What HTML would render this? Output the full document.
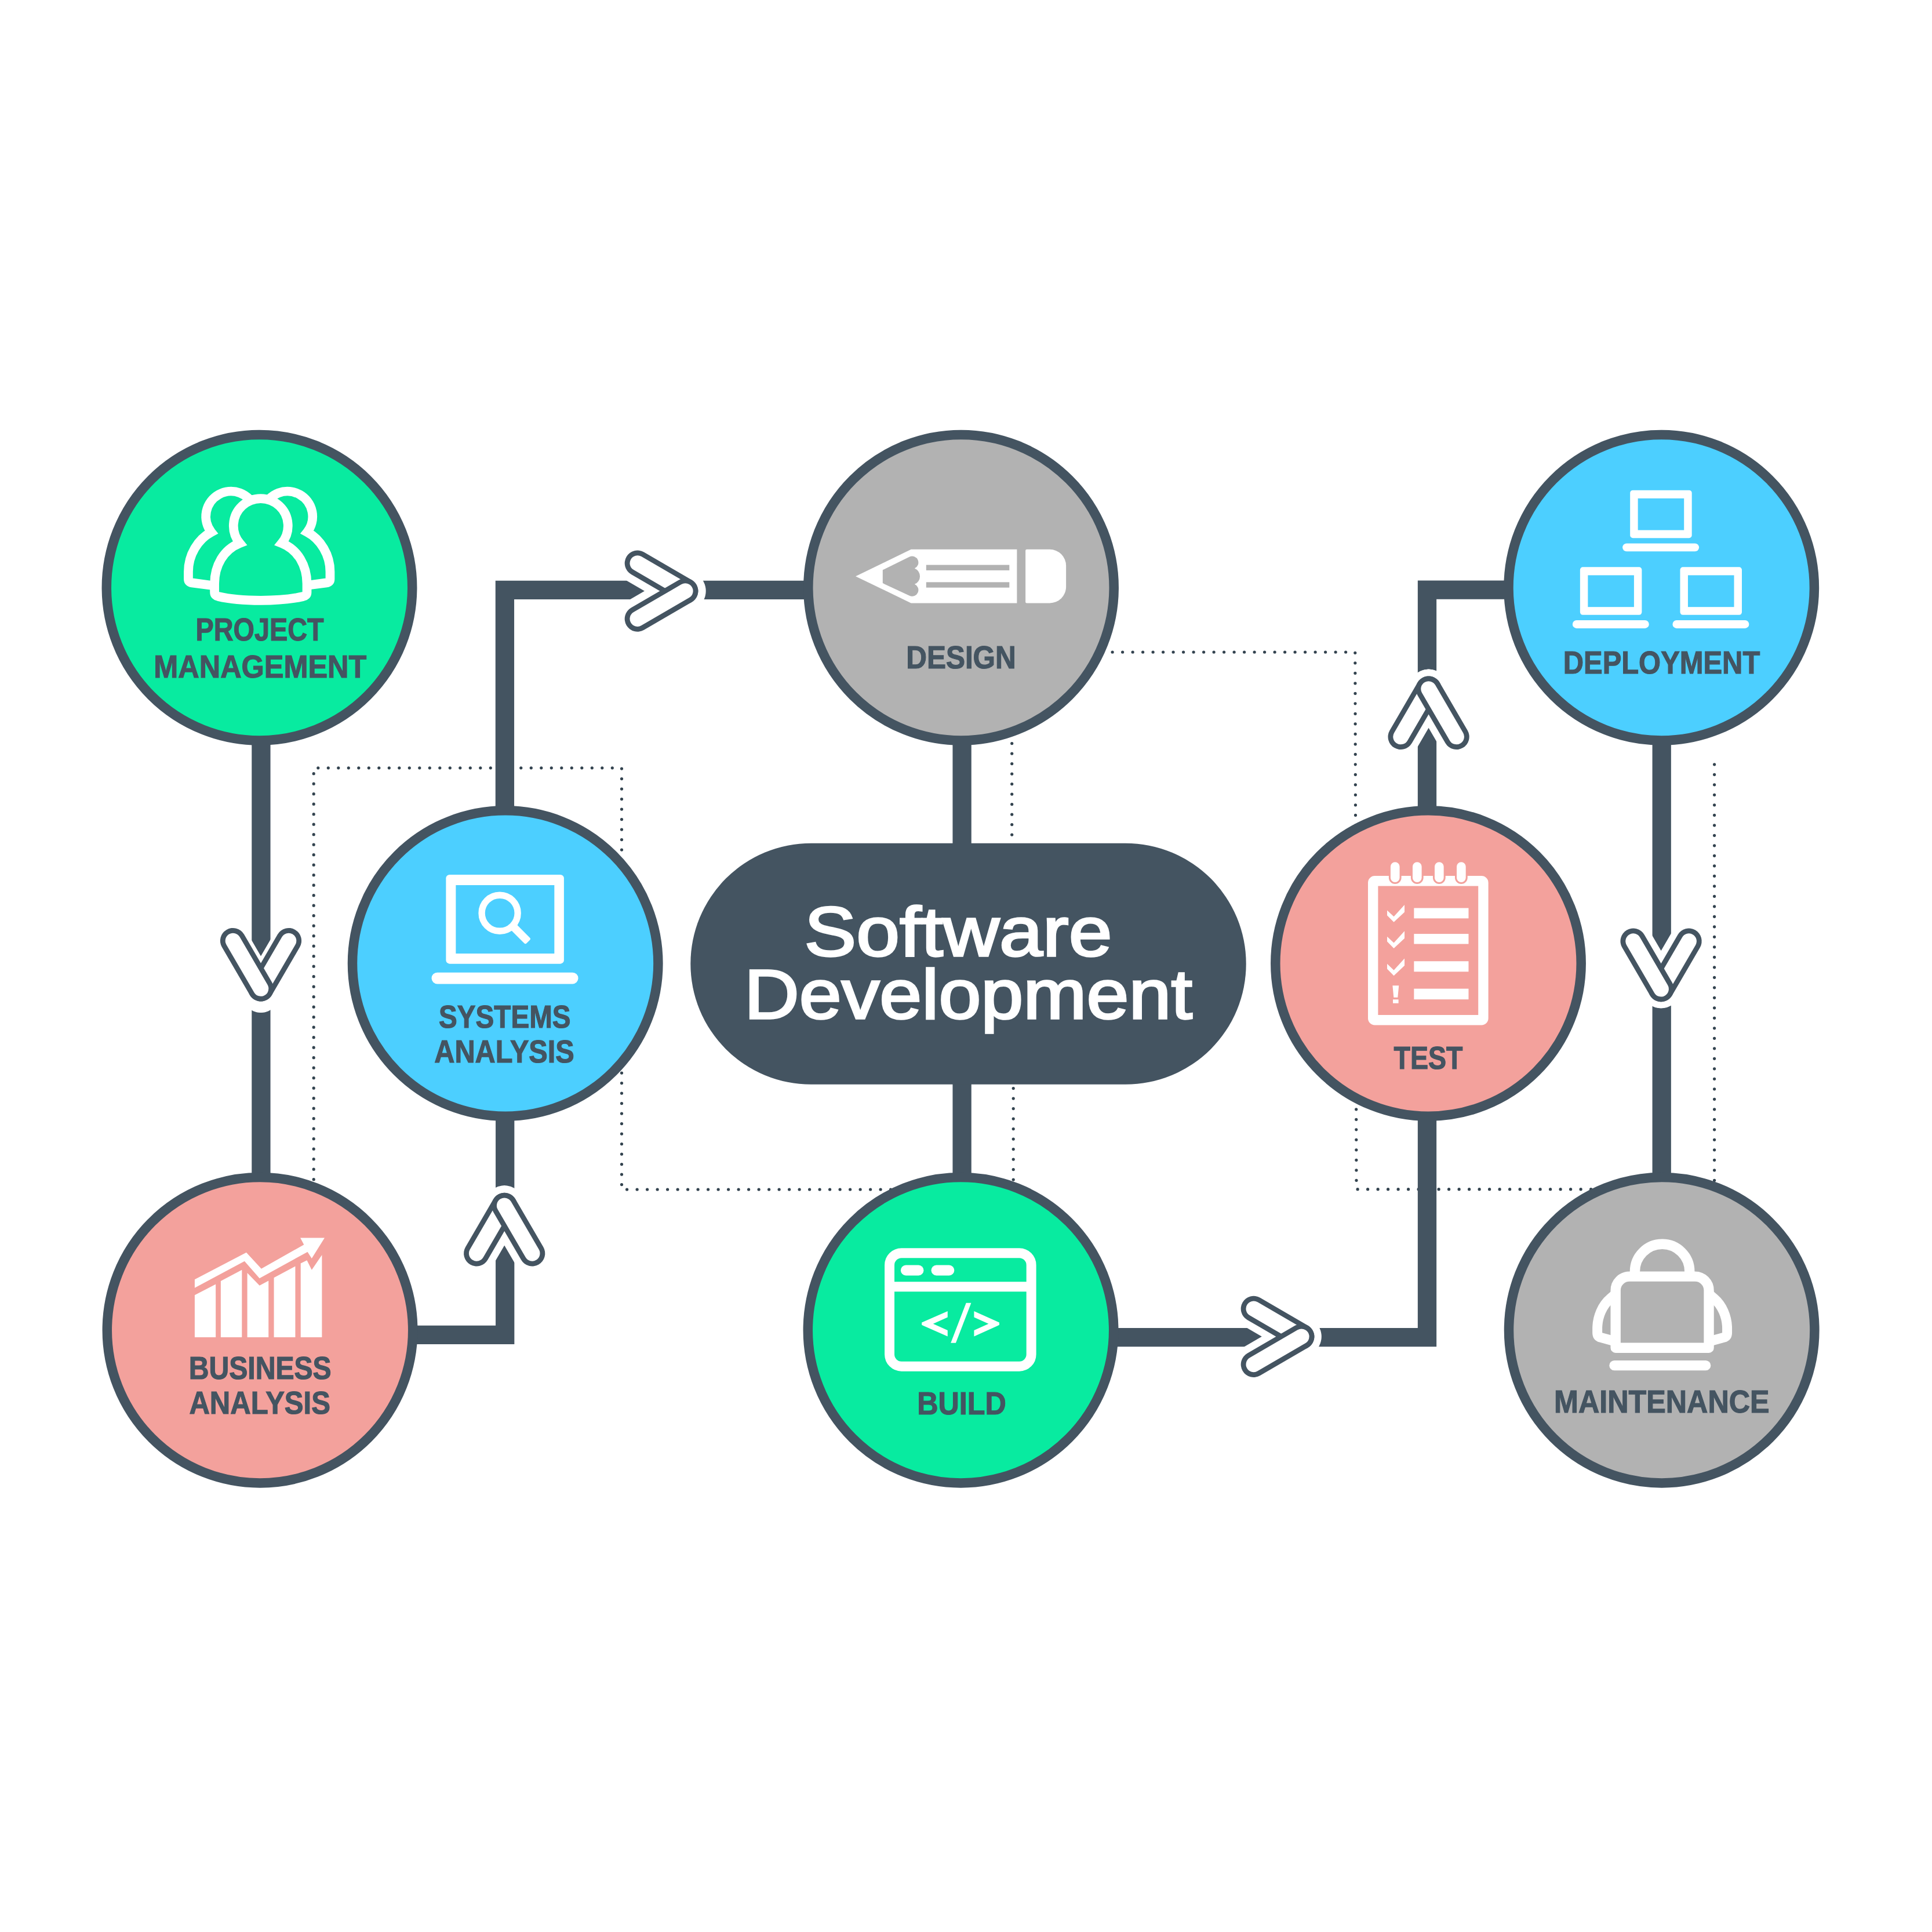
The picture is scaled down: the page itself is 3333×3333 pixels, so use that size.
<!DOCTYPE html>
<html lang="en"><head><meta charset="utf-8"><title>Software Development</title>
<style>html,body{margin:0;padding:0;background:#fff;width:3333px;height:3333px}svg{display:block}text{font-family:"Liberation Sans",Arial,Helvetica,sans-serif}.lb{font-weight:700;fill:#445461;stroke:#445461;stroke-width:1.2;text-anchor:middle}.tt{fill:#fff;stroke:#fff;stroke-width:3.4;text-anchor:middle}</style></head><body>
<svg width="3333" height="3333" viewBox="0 0 3333 3333">
<rect width="3333" height="3333" fill="#fff"/>
<g fill="none" stroke="#33434f" stroke-width="5.2" stroke-linecap="round" stroke-dasharray="0.01 17.49">
<path d="M541.2 2052.2 V1324.8 H1072.5 V2052 H1540"/>
<path d="M1745.7 1282.6 V1460"/>
<path d="M1748.2 1877.6 V2040"/>
<path d="M1919.1 1125 H2337.8 L2340 2051.7 H2750"/>
<path d="M2957.6 1318.8 V2040"/>
</g>
<g fill="none" stroke="#445461" stroke-width="32.3" stroke-linejoin="miter">
<path d="M450.4 1270 V2040"/>
<path d="M700 2302.9 H871.2 V1900"/>
<path d="M870.9 1420 V1017.8 H1400"/>
<path d="M1659.6 1270 V2040"/>
<path d="M1900 2307.1 H2462 V1900"/>
<path d="M2462 1420 V1017.7 H2620"/>
<path d="M2866.7 1270 V2040"/>
</g>
<g transform="translate(450.0 1705.5) rotate(90)" fill="none" stroke-linecap="round"><g transform="translate(8.5 0)"><path d="M-82.5 -48 L0 0 M-82.5 48 L0 0" stroke="#fff" stroke-width="65.0"/><circle r="33" fill="#fff"/></g><path d="M-82.5 -48 L0 0" stroke="#445461" stroke-width="44.2"/><path d="M-82.5 -48 L0 0" stroke="#fff" stroke-width="26.6"/><path d="M-82.5 48 L0 0" stroke="#445461" stroke-width="44.2"/><path d="M-82.5 48 L0 0" stroke="#fff" stroke-width="26.6"/></g>
<g transform="translate(870.2 2079.8) rotate(-90)" fill="none" stroke-linecap="round"><g transform="translate(0 0)"><path d="M-82.5 -48 L0 0 M-82.5 48 L0 0" stroke="#fff" stroke-width="69.0"/><circle r="33.4" fill="#fff"/></g><path d="M-82.5 -48 L0 0" stroke="#445461" stroke-width="44.2"/><path d="M-82.5 -48 L0 0" stroke="#fff" stroke-width="26.6"/><path d="M-82.5 48 L0 0" stroke="#445461" stroke-width="44.2"/><path d="M-82.5 48 L0 0" stroke="#fff" stroke-width="26.6"/></g>
<g transform="translate(1182.3 1019.6) rotate(0)" fill="none" stroke-linecap="round"><g transform="translate(0 0)"><path d="M-82.5 -48 L0 0 M-82.5 48 L0 0" stroke="#fff" stroke-width="70.8"/><circle r="32.7" fill="#fff"/></g><path d="M-82.5 -48 L0 0" stroke="#445461" stroke-width="44.2"/><path d="M-82.5 -48 L0 0" stroke="#fff" stroke-width="26.6"/><path d="M-82.5 48 L0 0" stroke="#445461" stroke-width="44.2"/><path d="M-82.5 48 L0 0" stroke="#fff" stroke-width="26.6"/></g>
<g transform="translate(2245.3 2305.8) rotate(0)" fill="none" stroke-linecap="round"><g transform="translate(0 0)"><path d="M-82.5 -48 L0 0 M-82.5 48 L0 0" stroke="#fff" stroke-width="69.0"/><circle r="32.9" fill="#fff"/></g><path d="M-82.5 -48 L0 0" stroke="#445461" stroke-width="44.2"/><path d="M-82.5 -48 L0 0" stroke="#fff" stroke-width="26.6"/><path d="M-82.5 48 L0 0" stroke="#445461" stroke-width="44.2"/><path d="M-82.5 48 L0 0" stroke="#fff" stroke-width="26.6"/></g>
<g transform="translate(2464.6 1188.5) rotate(-90)" fill="none" stroke-linecap="round"><g transform="translate(0 0)"><path d="M-82.5 -48 L0 0 M-82.5 48 L0 0" stroke="#fff" stroke-width="67.6"/><circle r="33.9" fill="#fff"/></g><path d="M-82.5 -48 L0 0" stroke="#445461" stroke-width="44.2"/><path d="M-82.5 -48 L0 0" stroke="#fff" stroke-width="26.6"/><path d="M-82.5 48 L0 0" stroke="#445461" stroke-width="44.2"/><path d="M-82.5 48 L0 0" stroke="#fff" stroke-width="26.6"/></g>
<g transform="translate(2865.6 1706.2) rotate(90)" fill="none" stroke-linecap="round"><g transform="translate(0 0)"><path d="M-82.5 -48 L0 0 M-82.5 48 L0 0" stroke="#fff" stroke-width="66.4"/><circle r="32.9" fill="#fff"/></g><path d="M-82.5 -48 L0 0" stroke="#445461" stroke-width="44.2"/><path d="M-82.5 -48 L0 0" stroke="#fff" stroke-width="26.6"/><path d="M-82.5 48 L0 0" stroke="#445461" stroke-width="44.2"/><path d="M-82.5 48 L0 0" stroke="#fff" stroke-width="26.6"/></g>
<circle cx="447.5" cy="1013.7" r="263.7" fill="#08EBA0" stroke="#445461" stroke-width="16.5"/>
<circle cx="448.5" cy="2294.7" r="263.7" fill="#F3A19C" stroke="#445461" stroke-width="16.5"/>
<circle cx="871.7" cy="1662.0" r="263.7" fill="#4CCFFF" stroke="#445461" stroke-width="16.5"/>
<circle cx="1658.0" cy="1013.7" r="263.7" fill="#B2B2B2" stroke="#445461" stroke-width="16.5"/>
<circle cx="1657.5" cy="2294.7" r="263.7" fill="#08EBA0" stroke="#445461" stroke-width="16.5"/>
<circle cx="2464.0" cy="1662.0" r="263.7" fill="#F3A19C" stroke="#445461" stroke-width="16.5"/>
<circle cx="2866.2" cy="1013.7" r="263.7" fill="#4CCFFF" stroke="#445461" stroke-width="16.5"/>
<circle cx="2866.7" cy="2294.7" r="263.7" fill="#B2B2B2" stroke="#445461" stroke-width="16.5"/>
<rect x="1191.3" y="1454.7" width="958.4" height="416.1" rx="208" fill="#445461"/>
<g transform="translate(250 800) scale(0.20704)" fill="none" stroke="#fff" stroke-width="76" stroke-linejoin="miter" stroke-linecap="butt">
<path d="M915.3 368.2 A210 210 0 1 0 553 570 C440 630 362 760 362 900 L362 962 Q362 988 392 992 L560 1014"/>
<path d="M989.7 368.2 A210 210 0 1 1 1352 570 C1465 630 1543 760 1543 900 L1543 962 Q1543 988 1513 992 L1345 1014"/>
<path fill="#08EBA0" d="M1140 662 A227 227 0 1 0 790 662 C655 715 580 850 580 1000 L580 1072 Q580 1100 612 1106 C800 1150 1130 1150 1318 1106 Q1350 1100 1350 1072 L1350 1000 C1350 850 1275 715 1140 662 Z"/>
</g>
<g transform="translate(670 1450) scale(0.20704)">
<rect x="480" y="285" width="983" height="742" rx="30" fill="#fff"/>
<rect x="562" y="372" width="821" height="570" fill="#4CCFFF"/>
<rect x="360" y="1100" width="1222" height="95" rx="47.5" fill="#fff"/>
<circle cx="928" cy="605" r="150" fill="none" stroke="#fff" stroke-width="55"/>
<rect transform="translate(1040 718) rotate(45)" x="0" y="-33" width="177" height="66" rx="14" fill="#fff"/>
</g>
<g transform="translate(250 2080) scale(0.20704)" fill="#fff">
<path d="M415 1097 V745 L590 655 V1097 Z"/>
<path d="M632 1097 V628 L808 535 V1097 Z"/>
<path d="M853 1097 V560 L955 665 L1030 625 V1097 Z"/>
<path d="M1075 1097 V600 L1253 505 V1097 Z"/>
<path d="M1298 1097 V480 L1350 455 L1390 535 L1475 410 V1097 Z"/>
<path d="M415 615 L845 390 L970 525 L1325 325 L1295 268 L1497 268 L1390 440 L1355 385 L955 605 L830 462 L415 685 Z"/>
</g>
<g transform="translate(1450 880) scale(0.21739)">
<path d="M120 525 L560 312 H1400 V738 H560 Z" fill="#fff"/>
<path d="M335 475 L548 370 A50 50 0 0 1 588 462 A68 68 0 0 1 588 588 A50 50 0 0 1 548 680 L335 580 Z" fill="#B2B2B2"/>
<rect x="680" y="435" width="660" height="43" fill="#B2B2B2"/>
<rect x="680" y="572" width="660" height="43" fill="#B2B2B2"/>
<path d="M1478 312 H1660 A130 130 0 0 1 1790 442 V608 A130 130 0 0 1 1660 738 H1478 Q1468 738 1468 728 V322 Q1468 312 1478 312 Z" fill="#fff"/>
</g>
<g transform="translate(1450 2100) scale(0.21739)">
<rect x="389" y="284" width="1125" height="899" rx="95" fill="none" stroke="#fff" stroke-width="78"/>
<path d="M389 551 H1514" stroke="#fff" stroke-width="78" fill="none"/>
<rect x="478" y="380" width="182" height="82" rx="41" fill="#fff"/>
<rect x="720" y="380" width="183" height="82" rx="41" fill="#fff"/>
<path d="M850 745 L645 835 V855 L850 945 V897 L735 845 L850 793 Z" fill="#fff"/>
<path d="M1060 745 L1260 835 V855 L1060 945 V897 L1175 845 L1060 793 Z" fill="#fff"/>
<path d="M997 680 H1037 L915 997 H875 Z" fill="#fff"/>
</g>
<g transform="translate(2260 1460) scale(0.21739)">
<rect x="500" y="275" width="875" height="1104" rx="14" fill="none" stroke="#fff" stroke-width="80"/>
<rect x="632" y="118" width="86" height="174" rx="43" fill="#fff" stroke="#F3A19C" stroke-width="14"/>
<rect x="807" y="118" width="86" height="174" rx="43" fill="#fff" stroke="#F3A19C" stroke-width="14"/>
<rect x="982" y="118" width="86" height="174" rx="43" fill="#fff" stroke="#F3A19C" stroke-width="14"/>
<rect x="1157" y="118" width="86" height="174" rx="43" fill="#fff" stroke="#F3A19C" stroke-width="14"/>
<path d="M612 508 L665 558 L750 465 V522 L665 602 L612 548 Z" fill="#fff"/>
<path d="M612 716 L665 766 L750 673 V730 L665 810 L612 756 Z" fill="#fff"/>
<path d="M612 933 L665 983 L750 890 V947 L665 1027 L612 973 Z" fill="#fff"/>
<rect x="825" y="490" width="433" height="82" fill="#fff"/>
<rect x="825" y="695" width="433" height="80" fill="#fff"/>
<rect x="825" y="912" width="433" height="83" fill="#fff"/>
<rect x="825" y="1130" width="433" height="85" fill="#fff"/>
<path d="M655 1105 H705 L696 1200 H664 Z M658 1215 H702 V1245 H658 Z" fill="#fff"/>
</g>
<g transform="translate(2660 800) scale(0.21739)">
<rect x="700" y="210" width="490" height="380" rx="22" fill="#fff"/>
<rect x="762" y="275" width="366" height="252" fill="#4CCFFF"/>
<rect x="640" y="632" width="607" height="64" rx="32" fill="#fff"/>
<rect x="303" y="820" width="490" height="380" rx="22" fill="#fff"/>
<rect x="365" y="885" width="366" height="252" fill="#4CCFFF"/>
<rect x="243" y="1242" width="607" height="64" rx="32" fill="#fff"/>
<rect x="1097" y="820" width="490" height="380" rx="22" fill="#fff"/>
<rect x="1159" y="885" width="366" height="252" fill="#4CCFFF"/>
<rect x="1037" y="1242" width="607" height="64" rx="32" fill="#fff"/>
</g>
<g transform="translate(2660 2080) scale(0.21739)" fill="none" stroke="#fff" stroke-width="80">
<path d="M738 575 V522 A217 217 0 0 1 1172 522 V575"/>
<path d="M600 688 L545 735 C480 790 440 880 440 975 V1008 Q440 1038 468 1046 L600 1082" stroke-width="78"/>
<path d="M1310 688 L1365 735 C1430 790 1470 880 1470 975 V1008 Q1470 1038 1442 1046 L1310 1082" stroke-width="78"/>
<path d="M585 1128 V672 A110 110 0 0 1 695 562 H1215 A110 110 0 0 1 1325 672 V1128 Z" stroke-linejoin="round" fill="#B2B2B2"/>
<rect x="535" y="1228" width="805" height="80" rx="40" fill="#fff" stroke="none"/>
</g>
<text class="lb" x="448" y="1105.4" font-size="56" textLength="221" lengthAdjust="spacingAndGlyphs">PROJECT</text>
<text class="lb" x="448.8" y="1168.5" font-size="56" textLength="367" lengthAdjust="spacingAndGlyphs">MANAGEMENT</text>
<text class="lb" x="870.8" y="1773" font-size="56" textLength="227.5" lengthAdjust="spacingAndGlyphs">SYSTEMS</text>
<text class="lb" x="870" y="1833" font-size="56" textLength="241.5" lengthAdjust="spacingAndGlyphs">ANALYSIS</text>
<text class="lb" x="448.7" y="2379.2" font-size="56" textLength="246" lengthAdjust="spacingAndGlyphs">BUSINESS</text>
<text class="lb" x="448.2" y="2439.2" font-size="56" textLength="243.5" lengthAdjust="spacingAndGlyphs">ANALYSIS</text>
<text class="lb" x="1658" y="1153.2" font-size="56" textLength="189.5" lengthAdjust="spacingAndGlyphs">DESIGN</text>
<text class="lb" x="1659" y="2440.2" font-size="56" textLength="153.5" lengthAdjust="spacingAndGlyphs">BUILD</text>
<text class="lb" x="2464" y="1843.7" font-size="56" textLength="119" lengthAdjust="spacingAndGlyphs">TEST</text>
<text class="lb" x="2866.5" y="1162" font-size="56" textLength="339.5" lengthAdjust="spacingAndGlyphs">DEPLOYMENT</text>
<text class="lb" x="2866.8" y="2437" font-size="56" textLength="371.5" lengthAdjust="spacingAndGlyphs">MAINTENANCE</text>
<text class="tt" x="1653" y="1649.3" font-size="120" textLength="531" lengthAdjust="spacingAndGlyphs">Software</text>
<text class="tt" x="1670.5" y="1756.6" font-size="120" textLength="773" lengthAdjust="spacingAndGlyphs">Development</text>
</svg></body></html>
